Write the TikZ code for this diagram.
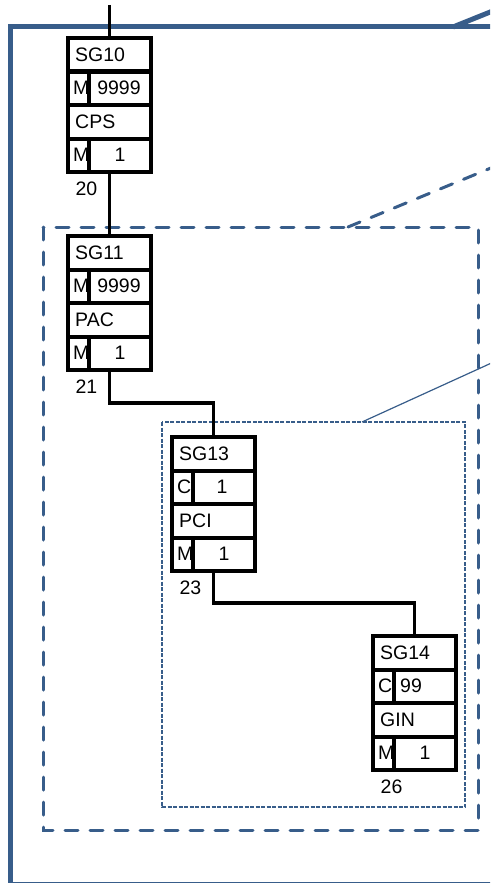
\documentclass[tikz,border=0pt]{standalone}
\usepackage{fontspec}
\setmainfont{Liberation Sans}
\definecolor{frameblue}{RGB}{56,93,138}

\begin{document}
\begin{tikzpicture}[x=1pt, y=-1pt,
	block/.style={draw, line width=4pt, fill=white, inner sep=0pt, outer sep=0pt, minimum width=83pt, minimum height=134pt},
	wire/.style={line width=3.5pt},
	txt/.style={inner sep=0pt, font=\fontsize{19.5}{19.5}\selectfont}]
	\useasboundingbox (0,0) rectangle (490,883);
	\clip (0,0) rectangle (490,883);
	
	% frames
	\draw [frameblue, line width=5pt] (10,27) rectangle (520,884);
	\draw [frameblue, line width=5pt] (453,27) -- (520,0);
	\draw [frameblue, line width=3pt, line cap=round, dash pattern=on 13pt off 12pt] (43,227) rectangle (478,830);
	\draw [frameblue, line width=3pt, line cap=round, dash pattern=on 13pt off 12pt] (348,227) -- (520,156);
	\draw [frameblue, line width=1.2pt, dash pattern=on 4pt off 1.5pt] (162,422) rectangle (465,807);
	\draw [frameblue, line width=1.2pt] (362,422) -- (520,350);
	
	% blocks
	\foreach \nm/\x/\y/\ta/\la/\va/\vx/\tb/\num in {
		sg10/68/38/SG10/M/9999/51/CPS/20,
		sg11/68/236/SG11/M/9999/51/PAC/21,
		sg13/172/437/SG13/C/1/50/PCI/23,
		sg14/373/636/SG14/C/99/38/GIN/26} {
		\node [block, anchor=north west] (\nm) at (\x,\y) {};
		\draw [line width=4pt] (\x,\y+33.5) -- (\x+83,\y+33.5);
		\draw [line width=4pt] (\x,\y+67) -- (\x+83,\y+67);
		\draw [line width=4pt] (\x,\y+100.5) -- (\x+83,\y+100.5);
		\draw [line width=4pt] (\x+21,\y+33.5) -- (\x+21,\y+67);
		\draw [line width=4pt] (\x+21,\y+100.5) -- (\x+21,\y+134);
		\node [txt, anchor=west] at (\x+7,\y+16.75) {\ta};
		\node [txt, anchor=west] at (\x+5,\y+50.25) {\la};
		\node [txt] at (\x+\vx,\y+50.25) {\va};
		\node [txt, anchor=west] at (\x+7,\y+83.75) {\tb};
		\node [txt, anchor=west] at (\x+5,\y+117.25) {M};
		\node [txt] at (\x+52,\y+117.25) {1};
		\node [txt] at (\x+18.5,\y+151) {\num};
	}
	
	% connectors
	\coordinate (feed) at (109.5,5);
	\draw [wire] (feed) -- (sg10.north);
	\draw [wire] (sg10.south) -- (sg11.north);
	\draw [wire] (sg11.south) -- ++(0,33) -| (sg13.north);
	\draw [wire] (sg13.south) -- ++(0,32) -| (sg14.north);
\end{tikzpicture}
\end{document}
